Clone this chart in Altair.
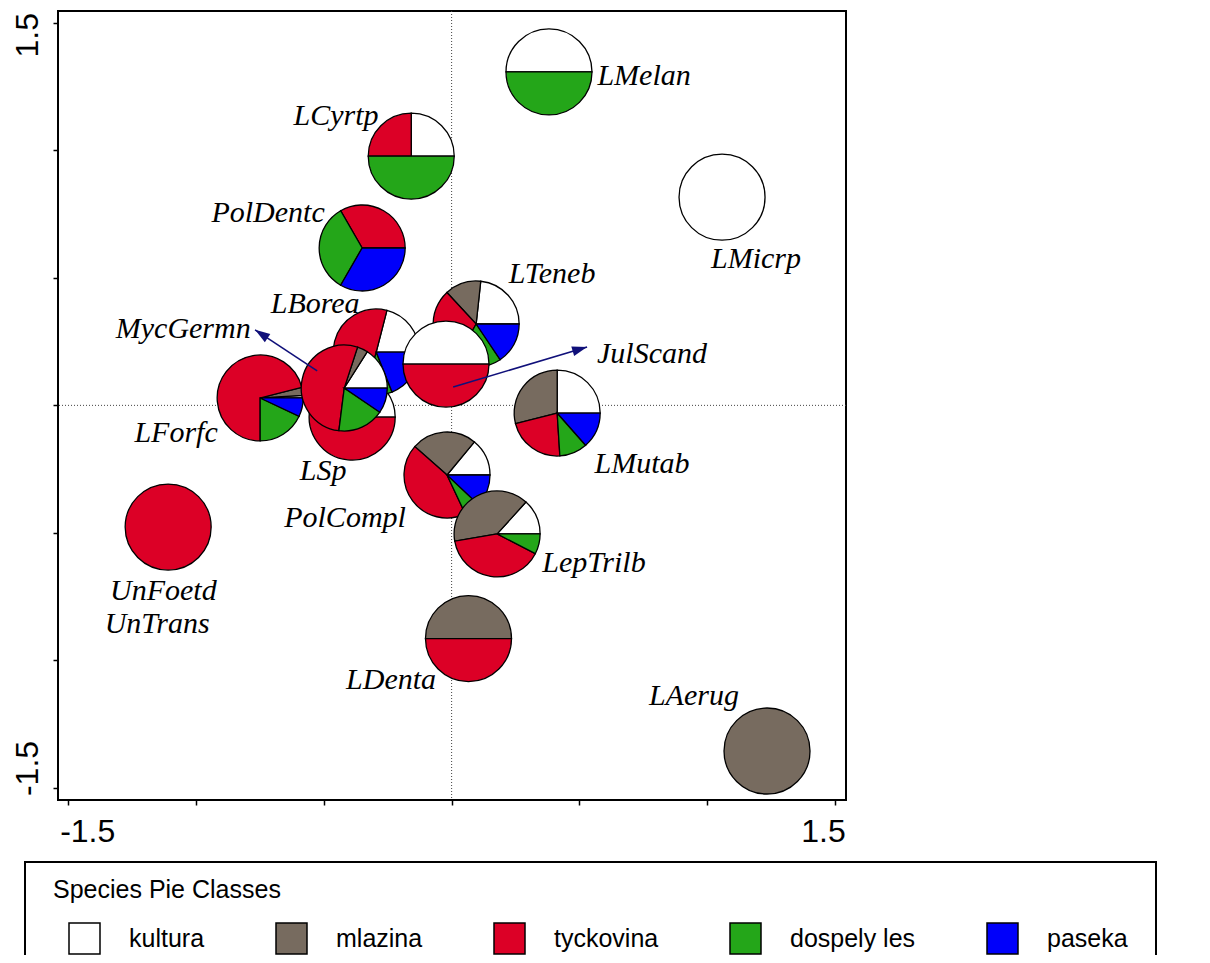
import math
import pandas as pd
import altair as alt

# ---- classes / legend ----
classes = ["kultura", "mlazina", "tyckovina", "dospely les", "paseka"]
class_colors = ["#ffffff", "#776b5f", "#dc0026", "#24a619", "#0000fa"]

# ---- pie species (drawing order) ----
pie_names = ["LMelan", "LCyrtp", "PolDentc", "LMicrp", "LMutab", "LAerug", "LDenta",
             "UnFoetd", "PolCompl", "LepTrilb", "LForfc", "LTeneb", "LSp", "LBorea",
             "MycGermn", "JulScand"]
pie_x = [0.381, -0.158, -0.350, 1.058, 0.413, 1.234, 0.066,
         -1.109, -0.018, 0.178, -0.749, 0.096, -0.389, -0.295,
         -0.420, -0.022]
pie_y = [1.307, 0.977, 0.617, 0.816, -0.030, -1.355, -0.914,
         -0.477, -0.273, -0.504, 0.029, 0.319, -0.046, 0.209,
         0.068, 0.162]
kultura   = [0.50, 0.25, 0.00, 1.00, 0.250, 0.0, 0.0, 0.0, 0.140, 0.133, 0.01, 0.233, 0.20, 0.21, 0.160, 0.5]
mlazina   = [0.00, 0.00, 0.00, 0.00, 0.290, 1.0, 0.5, 0.0, 0.245, 0.394, 0.03, 0.136, 0.00, 0.00, 0.040, 0.0]
tyckovina = [0.00, 0.25, 1/3,  0.00, 0.220, 0.0, 0.5, 1.0, 0.435, 0.397, 0.71, 0.300, 0.80, 0.50, 0.530, 0.5]
dospely   = [0.50, 0.50, 1/3,  0.00, 0.105, 0.0, 0.0, 0.0, 0.060, 0.076, 0.18, 0.175, 0.00, 0.10, 0.175, 0.0]
paseka    = [0.00, 0.00, 1/3,  0.00, 0.135, 0.0, 0.0, 0.0, 0.120, 0.000, 0.07, 0.156, 0.00, 0.19, 0.095, 0.0]

# ---- species labels ----
label_names = ["LMelan", "LCyrtp", "PolDentc", "LMicrp", "LTeneb", "LBorea", "MycGermn",
               "JulScand", "LForfc", "LMutab", "LSp", "PolCompl", "LepTrilb", "UnFoetd",
               "UnTrans", "LDenta", "LAerug"]
label_x = [0.753, -0.452, -0.718, 1.191, 0.393, -0.534, -1.050,
           0.784, -1.078, 0.745, -0.503, -0.417, 0.557, -1.128,
           -1.152, -0.237, 0.948]
label_y = [1.256, 1.099, 0.719, 0.538, 0.480, 0.362, 0.264,
           0.165, -0.145, -0.265, -0.293, -0.477, -0.653, -0.763,
           -0.892, -1.112, -1.175]

# ---- label connector arrows ----
arrow_names = ["MycGermn", "JulScand"]
arrow_x1 = [-0.526, 0.006]
arrow_y1 = [0.135, 0.072]
arrow_x2 = [-0.769, 0.530]
arrow_y2 = [0.296, 0.229]

ticks = [-1.5, -1.0, -0.5, 0.0, 0.5, 1.0, 1.5]

# ---- build tables ----
rows = []
for i, name in enumerate(pie_names):
    vals = [kultura[i], mlazina[i], tyckovina[i], dospely[i], paseka[i]]
    tot = sum(vals)
    cum = 0.0
    for c, v in zip(classes, vals):
        if v <= 0:
            continue
        rows.append({"species": name, "x": pie_x[i], "y": pie_y[i], "cls": c,
                     "t0": cum / tot, "t1": (cum + v) / tot})
        cum += v
pie_df = pd.DataFrame(rows)

lab_df = pd.DataFrame({"name": label_names, "x": label_x, "y": label_y})

arr_df = pd.DataFrame({"name": arrow_names, "x1": arrow_x1, "y1": arrow_y1,
                       "x2": arrow_x2, "y2": arrow_y2})
arr_df["ang"] = [
    (math.degrees(math.atan2(x2 - x1, y2 - y1)) + 360) % 360
    for x1, y1, x2, y2 in zip(arrow_x1, arrow_y1, arrow_x2, arrow_y2)
]

xdom = [-1.540, 1.543]
ydom = [-1.547, 1.546]

xscale = alt.Scale(domain=xdom, nice=False, zero=False)
yscale = alt.Scale(domain=ydom, nice=False, zero=False)

xaxis = alt.Axis(
    values=ticks, title=None, grid=False, domain=False,
    tickSize=5, tickColor="black", tickWidth=1.5,
    labelExpr="datum.value == -1.5 ? '-1.5' : (datum.value == 1.5 ? '1.5' : '')",
    labelFont="Liberation Sans", labelFontSize=32, labelColor="black",
    labelPadding=11, labelBaseline="top", labelAlign="center",
    labelFlush=False, labelOverlap=False,
    labelOffset={"condition": {"test": "datum.value < 0", "value": 19}, "value": -12},
)
yaxis = alt.Axis(
    values=ticks, title=None, grid=False, domain=False,
    tickSize=5, tickColor="black", tickWidth=1.5,
    labelExpr="datum.value == -1.5 ? '-1.5' : (datum.value == 1.5 ? '1.5' : '')",
    labelFont="Liberation Sans", labelFontSize=32, labelColor="black",
    labelPadding=16, labelAngle=270, labelBaseline="alphabetic", labelAlign="center",
    labelFlush=False, labelOverlap=False,
    labelOffset={"condition": {"test": "datum.value > 0", "value": 12}, "value": -20},
)

zero_df = pd.DataFrame({"v": [0.0]})
vline = alt.Chart(zero_df).mark_rule(color="#444444", strokeDash=[1, 2], strokeWidth=1).encode(
    x=alt.X("v:Q", scale=xscale, axis=xaxis))
hline = alt.Chart(zero_df).mark_rule(color="#444444", strokeDash=[1, 2], strokeWidth=1).encode(
    y=alt.Y("v:Q", scale=yscale, axis=yaxis))

pies = alt.Chart(pie_df).mark_arc(radius=43, stroke="black", strokeWidth=1.3).encode(
    x=alt.X("x:Q", scale=xscale, axis=xaxis),
    y=alt.Y("y:Q", scale=yscale, axis=yaxis),
    theta=alt.Theta("t0:Q", stack=False,
                    scale=alt.Scale(domain=[0, 1], range=[2.5 * math.pi, 0.5 * math.pi])),
    theta2=alt.Theta2("t1:Q"),
    color=alt.Color(
        "cls:N",
        scale=alt.Scale(domain=classes, range=class_colors),
        legend=alt.Legend(
            title="Species Pie Classes", orient="none", legendX=-33, legendY=851,
            direction="horizontal", columns=5,
            symbolType="square", symbolSize=961, symbolStrokeColor="black",
            symbolStrokeWidth=1.5, symbolOffset=15, labelOffset=28,
            columnPadding=55, padding=28, strokeColor="black",
            titleFont="Liberation Sans", titleFontSize=25, titleFontWeight="normal",
            titleColor="black", titlePadding=7, titleBaseline="middle", titleLimit=800,
            labelFont="Liberation Sans", labelFontSize=25, labelColor="black",
            labelLimit=400,
        ),
    ),
)

arrow_lines = alt.Chart(arr_df).mark_rule(color="#10107a", strokeWidth=1.6).encode(
    x=alt.X("x1:Q", scale=xscale, axis=xaxis),
    y=alt.Y("y1:Q", scale=yscale, axis=yaxis),
    x2="x2:Q", y2="y2:Q",
)
arrow_heads = alt.Chart(arr_df).mark_point(
    shape="M0,0L0.33,1L-0.33,1Z", filled=True, color="#10107a", size=900, opacity=1
).encode(
    x=alt.X("x2:Q", scale=xscale, axis=xaxis),
    y=alt.Y("y2:Q", scale=yscale, axis=yaxis),
    angle=alt.Angle("ang:Q", scale=None),
)

labels = alt.Chart(lab_df).mark_text(
    font="Liberation Serif", fontStyle="italic", fontSize=30, color="black",
    align="center", baseline="alphabetic"
).encode(
    x=alt.X("x:Q", scale=xscale, axis=xaxis),
    y=alt.Y("y:Q", scale=yscale, axis=yaxis),
    text="name:N",
)

chart = alt.layer(vline, hline, pies, arrow_lines, arrow_heads, labels).properties(
    width=788, height=789,
    autosize=alt.AutoSizeParams(type="none"),
    padding={"left": 50, "top": 3, "right": 352, "bottom": 155},
    background="white",
).configure_view(stroke="black", strokeWidth=2).configure_legend(strokeWidth=2)

chart.save("out.html", embed_options={"renderer": "svg", "actions": False})
